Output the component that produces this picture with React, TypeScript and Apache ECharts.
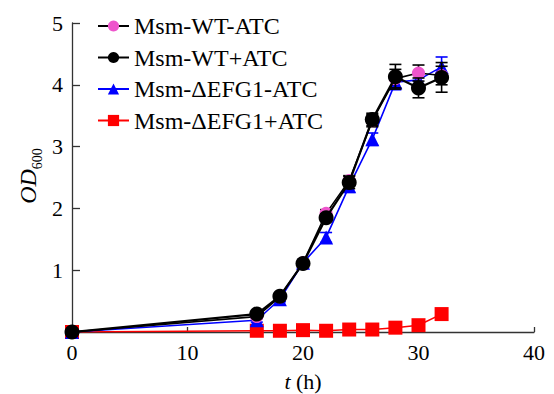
import React, { useEffect, useRef } from "react";
import * as echarts from "echarts";

const hours = [0, 16, 18, 20, 22, 24, 26, 28, 30, 32];
const wtMinus = [0, 0.25, 0.57, 1.12, 1.92, 2.45, 3.42, 4.1, 4.19, 4.15];
const wtMinusErr = [0, 0.03, 0.04, 0.05, 0.06, 0.08, 0.1, 0.15, 0.13, 0.15];
const wtPlus = [0, 0.29, 0.58, 1.11, 1.85, 2.42, 3.44, 4.13, 3.95, 4.12];
const wtPlusErr = [0, 0.03, 0.04, 0.05, 0.06, 0.1, 0.1, 0.2, 0.16, 0.24];
const efgMinus = [0, 0.19, 0.53, 1.12, 1.53, 2.36, 3.12, 4.04, 4.08, 4.29];
const efgMinusErr = [0, 0.03, 0.04, 0.05, 0.08, 0.1, 0.1, 0.12, 0.12, 0.16];
const efgPlus = [0, 0.02, 0.02, 0.03, 0.02, 0.04, 0.04, 0.07, 0.11, 0.29];
const efgPlusErr = [0, 0.01, 0.01, 0.01, 0.01, 0.01, 0.01, 0.01, 0.02, 0.02];

const names = ["Msm-WT-ATC", "Msm-WT+ATC", "Msm-ΔEFG1-ATC", "Msm-ΔEFG1+ATC"];
const yTicks = ["", "1", "2", "3", "4", "5"];

const FONT = "'Liberation Serif', 'Times New Roman', serif";

function pairs(ys: number[]) {
  return hours.map((h, i) => [h, ys[i]]);
}
function errPairs(ys: number[], es: number[]) {
  return hours.map((h, i) => [h, ys[i], es[i]]);
}

function errSeries(name: string, ys: number[], es: number[], color: string, z: number) {
  return {
    type: "custom",
    name: name + "-err",
    z,
    data: errPairs(ys, es),
    renderItem: (params: any, api: any) => {
      const x = api.value(0);
      const y = api.value(1);
      const e = api.value(2);
      if (!e) return { type: "group", children: [] };
      const top = api.coord([x, y + e]);
      const bot = api.coord([x, y - e]);
      const hw = 6;
      const st = { stroke: color, lineWidth: 1.6 };
      return {
        type: "group",
        children: [
          { type: "line", shape: { x1: top[0], y1: top[1], x2: bot[0], y2: bot[1] }, style: st },
          { type: "line", shape: { x1: top[0] - hw, y1: top[1], x2: top[0] + hw, y2: top[1] }, style: st },
          { type: "line", shape: { x1: bot[0] - hw, y1: bot[1], x2: bot[0] + hw, y2: bot[1] }, style: st },
        ],
      };
    },
  };
}

export default function App() {
  const ref = useRef<HTMLDivElement>(null);
  useEffect(() => {
    document.body.style.margin = "0";
    if (!ref.current) return;
    const chart = echarts.init(ref.current, null, { renderer: "svg" });
    const pink = "#ee55cc";
    const black = "#000000";
    const blue = "#0000ff";
    const red = "#ff0000";
    chart.setOption({
      animation: false,
      backgroundColor: "#ffffff",
      textStyle: { fontFamily: FONT },
      grid: { left: 72, right: 20, top: 23, bottom: 62 },
      legend: {
        orient: "vertical",
        left: 97,
        top: 14,
        padding: 0,
        itemWidth: 31,
        itemHeight: 14,
        itemGap: 7.5,
        data: names,
        textStyle: { fontFamily: FONT, fontSize: 24, color: "#000", lineHeight: 24 },
      },
      xAxis: {
        type: "value",
        min: 0,
        max: 40,
        interval: 10,
        axisLine: { lineStyle: { color: "#333", width: 1.3 } },
        axisTick: { inside: true, length: 5, lineStyle: { color: "#333", width: 1.3 } },
        axisLabel: { fontFamily: FONT, fontSize: 22, color: "#000", margin: 9 },
        splitLine: { show: false },
      },
      yAxis: {
        type: "value",
        min: 0,
        max: 5,
        interval: 1,
        axisLine: { show: true, lineStyle: { color: "#333", width: 1.3 } },
        axisTick: { show: true, inside: true, length: 8, lineStyle: { color: "#333", width: 1.3 } },
        axisLabel: {
          fontFamily: FONT,
          fontSize: 22,
          color: "#000",
          margin: 9,
          formatter: (v: number) => yTicks[Math.round(v)] ?? "",
        },
        splitLine: { show: false },
      },
      graphic: [
        {
          type: "text",
          x: 303,
          y: 381,
          style: {
            text: "{i|t} (h)",
            fontFamily: FONT,
            fontSize: 22,
            fill: "#000",
            align: "center",
            verticalAlign: "middle",
            rich: { i: { fontStyle: "italic", fontFamily: FONT, fontSize: 22 } },
          },
        },
        {
          type: "text",
          x: 27,
          y: 176,
          rotation: Math.PI / 2,
          style: {
            text: "{a|OD}{b|600}",
            fontFamily: FONT,
            fill: "#000",
            align: "center",
            verticalAlign: "middle",
            rich: {
              a: { fontStyle: "italic", fontFamily: FONT, fontSize: 24, lineHeight: 26, verticalAlign: "bottom" },
              b: { fontFamily: FONT, fontSize: 14, verticalAlign: "bottom", padding: [0, 0, -4, 0] },
            },
          },
        },
      ],
      series: [
        errSeries(names[3], efgPlus, efgPlusErr, red, 1),
        {
          type: "line",
          name: names[3],
          z: 2,
          data: pairs(efgPlus),
          symbol: "rect",
          symbolSize: 14,
          itemStyle: { color: red },
          lineStyle: { color: red, width: 1.5 },
        },
        errSeries(names[2], efgMinus, efgMinusErr, blue, 3),
        {
          type: "line",
          name: names[2],
          z: 4,
          data: pairs(efgMinus),
          symbol: "triangle",
          symbolSize: 14,
          itemStyle: { color: blue },
          lineStyle: { color: blue, width: 1.6 },
        },
        errSeries(names[0], wtMinus, wtMinusErr, black, 5),
        {
          type: "line",
          name: names[0],
          z: 6,
          data: pairs(wtMinus),
          symbol: "circle",
          symbolSize: 13,
          itemStyle: { color: pink },
          lineStyle: { color: black, width: 1.6 },
        },
        errSeries(names[1], wtPlus, wtPlusErr, black, 7),
        {
          type: "line",
          name: names[1],
          z: 8,
          data: pairs(wtPlus),
          symbol: "circle",
          symbolSize: 15,
          itemStyle: { color: black },
          lineStyle: { color: black, width: 2.2 },
        },
      ],
    });
    return () => chart.dispose();
  }, []);
  return <div ref={ref} style={{ width: 554, height: 394 }} />;
}
